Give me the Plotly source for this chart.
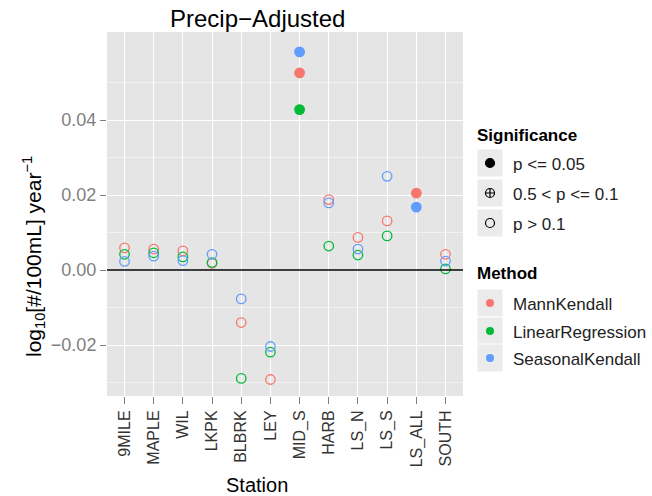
import plotly.graph_objects as go

stations = ["9MILE", "MAPLE", "WIL", "LKPK", "BLBRK", "LEY", "MID_S", "HARB",
            "LS_N", "LS_S", "LS_ALL", "SOUTH"]
mann_kendall = [0.0059, 0.0056, 0.0051, 0.0018, -0.0140, -0.0292, 0.0526, 0.0188,
                0.0087, 0.0131, 0.0205, 0.0042]
linear_regression = [0.0042, 0.0046, 0.0035, 0.0020, -0.0289, -0.0219, 0.0428, 0.0064,
                     0.0040, 0.0091, None, 0.0003]
seasonal_kendall = [0.0023, 0.0037, 0.0025, 0.0042, -0.0077, -0.0204, 0.0582, 0.0179,
                    0.0056, 0.0250, 0.0168, 0.0024]
sig_mann_kendall = ["p > 0.1"] * 6 + ["p <= 0.05"] + ["p > 0.1"] * 3 + ["p <= 0.05", "p > 0.1"]
sig_linear_regression = ["p > 0.1"] * 6 + ["p <= 0.05"] + ["p > 0.1"] * 5
sig_seasonal_kendall = ["p > 0.1"] * 6 + ["p <= 0.05"] + ["p > 0.1"] * 3 + ["p <= 0.05", "p > 0.1"]

sig_levels = ["p <= 0.05", "0.5 < p <= 0.1", "p > 0.1"]
methods = ["MannKendall", "LinearRegression", "SeasonalKendall"]
y_ticks = [-0.02, 0.00, 0.02, 0.04]
y_tick_labels = ["\u22120.02", "0.00", "0.02", "0.04"]

symbol_map = {"p <= 0.05": "circle", "0.5 < p <= 0.1": "circle-cross-open", "p > 0.1": "circle-open"}
colors = {"MannKendall": "#F8766D", "LinearRegression": "#00BA38", "SeasonalKendall": "#619CFF"}

W, H = 652, 496
PL, PR, PT, PB = 107, 463, 32, 396
FONT = "Liberation Sans, Arial, sans-serif"
Y0, Y1 = -0.0336, 0.0635
TITLE_X = 257

fig = go.Figure()

series = {
    "MannKendall": (mann_kendall, sig_mann_kendall),
    "LinearRegression": (linear_regression, sig_linear_regression),
    "SeasonalKendall": (seasonal_kendall, sig_seasonal_kendall),
}
for m in methods:
    vals, sig = series[m]
    fig.add_trace(go.Scatter(
        x=stations, y=vals, mode="markers", name=m, showlegend=False,
        marker=dict(symbol=[symbol_map[s] for s in sig], size=9.5, color=colors[m],
                    line=dict(width=1.3, color=colors[m])),
        xaxis="x", yaxis="y",
    ))

shapes = []
shapes.append(dict(type="rect", xref="x domain", yref="y domain", x0=0, x1=1, y0=0, y1=1,
                   fillcolor="#E5E5E5", line=dict(width=0), layer="below"))
shapes.append(dict(type="line", xref="x domain", yref="y", x0=0, x1=1, y0=0, y1=0,
                   line=dict(color="black", width=1.6), layer="above"))

# ---- manual ggplot-style legends ----
LX0, LX1 = 477, 503
key_x = (LX0 + LX1) / 2
sig_rows = [163, 193, 223]
meth_rows = [303, 331, 358]
for rows in (sig_rows, meth_rows):
    for yc in rows:
        shapes.append(dict(type="rect", xref="x2", yref="y2", x0=LX0, x1=LX1,
                           y0=yc - 14, y1=yc + 14, line=dict(color="white", width=1),
                           fillcolor="#EBEBEB", layer="below"))

fig.add_trace(go.Scatter(
    x=[key_x] * 3, y=sig_rows, mode="markers", showlegend=False, hoverinfo="skip",
    marker=dict(symbol=[symbol_map[s] for s in sig_levels], size=9, color="black",
                line=dict(width=1.2, color="black")),
    xaxis="x2", yaxis="y2"))
fig.add_trace(go.Scatter(
    x=[key_x] * 3, y=meth_rows, mode="markers", showlegend=False, hoverinfo="skip",
    marker=dict(symbol="circle", size=8, color=[colors[m] for m in methods]),
    xaxis="x2", yaxis="y2"))

ann = []
ann.append(dict(text="<b>Significance</b>", x=LX0 - 2, y=135, xref="x2", yref="y2",
                xanchor="left", yanchor="middle", showarrow=False,
                font=dict(family=FONT, size=17, color="black")))
ann.append(dict(text="<b>Method</b>", x=LX0 - 2, y=273, xref="x2", yref="y2",
                xanchor="left", yanchor="middle", showarrow=False,
                font=dict(family=FONT, size=17, color="black")))
for lab, yc in zip(sig_levels, sig_rows):
    ann.append(dict(text=lab, x=511, y=yc + 1, xref="x2", yref="y2", xanchor="left",
                    yanchor="middle", showarrow=False,
                    font=dict(family=FONT, size=17, color="#222")))
for lab, yc in zip(methods, meth_rows):
    ann.append(dict(text=lab, x=511, y=yc + 1, xref="x2", yref="y2", xanchor="left",
                    yanchor="middle", showarrow=False,
                    font=dict(family=FONT, size=17, color="#222")))
ann.append(dict(text="Precip\u2212Adjusted", x=TITLE_X, y=18, xref="x2", yref="y2",
                xanchor="center", yanchor="middle", showarrow=False,
                font=dict(family=FONT, size=24, color="black")))
ann.append(dict(text="Station", x=TITLE_X, y=485, xref="x2", yref="y2",
                xanchor="center", yanchor="middle", showarrow=False,
                font=dict(family=FONT, size=20, color="black")))
ann.append(dict(text="log<sub>10</sub>[#/100mL] year<sup>\u22121</sup>", x=33, y=257,
                xref="x2", yref="y2", xanchor="center", yanchor="middle", textangle=-90,
                showarrow=False, font=dict(family=FONT, size=21, color="black")))

fig.update_layout(
    width=W, height=H, margin=dict(l=0, r=0, t=0, b=0),
    paper_bgcolor="white", plot_bgcolor="rgba(0,0,0,0)",
    annotations=ann, shapes=shapes,
    xaxis=dict(domain=[PL / W, PR / W], type="category", range=[-0.6, 11.6],
               categoryorder="array", categoryarray=stations,
               showgrid=True, gridcolor="white", gridwidth=1.3,
               ticks="outside", ticklen=7, tickcolor="#7F7F7F", tickwidth=1,
               tickangle=-90, tickfont=dict(family=FONT, size=16, color="#333"),
               showline=False, zeroline=False, anchor="y"),
    yaxis=dict(domain=[1 - PB / H, 1 - PT / H], range=[Y0, Y1],
               tickvals=y_ticks, ticktext=y_tick_labels,
               showgrid=True, gridcolor="white", gridwidth=1.3,
               minor=dict(tickvals=[-0.03, -0.01, 0.01, 0.03, 0.05], showgrid=True,
                          gridcolor="#F2F2F2", gridwidth=0.6, ticks=""),
               ticks="outside", ticklen=6, tickcolor="#7F7F7F", tickwidth=1,
               tickfont=dict(family=FONT, size=18, color="#7F7F7F"),
               showline=False, zeroline=False, anchor="x"),
    xaxis2=dict(domain=[0, 1], range=[0, W], visible=False, fixedrange=True, anchor="y2"),
    yaxis2=dict(domain=[0, 1], range=[H, 0], visible=False, fixedrange=True, anchor="x2"),
)

fig.write_html("out.html")
